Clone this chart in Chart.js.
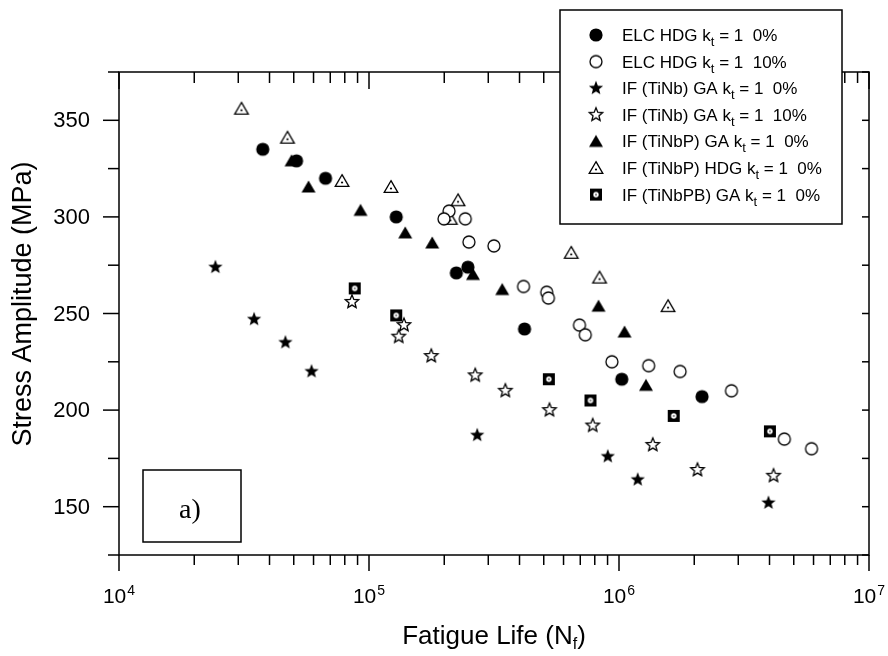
<!DOCTYPE html>
<html><head><meta charset="utf-8">
<script src="https://cdn.jsdelivr.net/npm/chart.js@4/dist/chart.umd.min.js"></script>
<style>html,body{margin:0;padding:0;background:#fff;}canvas{display:block;}</style>
</head><body>
<canvas id="c" width="888" height="656"></canvas>
<script>
// ---------------- DATA ----------------
const elcHdg0Life   = [37600, 51300, 67000, 128500, 223500, 248600, 419000, 1026000, 2148000];
const elcHdg0Stress = [335, 329, 320, 300, 271, 274, 242, 216, 207];

const elcHdg10Life   = [209000, 199500, 242700, 251000, 316000, 415000, 514000, 522000, 695000, 733000, 937000, 1314000, 1755000, 2818000, 4585000, 5890000];
const elcHdg10Stress = [303, 299, 299, 287, 285, 264, 261, 258, 244, 239, 225, 223, 220, 210, 185, 180];

const tiNbGa0Life   = [24300, 34700, 46300, 58900, 271000, 902000, 1188000, 3962000];
const tiNbGa0Stress = [274, 247, 235, 220, 187, 176, 164, 152];

const tiNbGa10Life   = [85500, 131500, 138000, 177500, 266000, 351000, 527000, 785000, 1365000, 2060000, 4150000];
const tiNbGa10Stress = [256, 238, 244, 228, 218, 210, 200, 192, 182, 169, 166];

const tiNbPGa0Life   = [49000, 57300, 92500, 139600, 179000, 260500, 341000, 828000, 1052000, 1282000];
const tiNbPGa0Stress = [329, 315.5, 303.4, 291.7, 286.5, 270.2, 262.4, 253.8, 240.4, 212.8];

const tiNbPHdg0Life   = [30900, 47200, 78000, 122400, 227000, 211500, 644000, 836000, 1571000];
const tiNbPHdg0Stress = [356, 341, 318.6, 315.5, 308.6, 299, 281.4, 268.6, 253.8];

const tiNbPBGa0Life   = [87700, 128500, 524000, 769000, 1655000, 4015000];
const tiNbPBGa0Stress = [263, 249, 216, 205, 197, 189];

const seriesNames = ['ELC HDG', 'ELC HDG', 'IF (TiNb) GA', 'IF (TiNb) GA', 'IF (TiNbP) GA', 'IF (TiNbP) HDG', 'IF (TiNbPB) GA'];
const seriesPrestrain = ['0%', '10%', '0%', '10%', '0%', '0%', '0%'];

const yMajorTicks = [150, 200, 250, 300, 350];
const yMinorTicks = [125, 175, 225, 275, 325, 375];
const xDecadeExponents = [4, 5, 6, 7];
const xTitle = 'Fatigue Life (N';
const xTitleSub = 'f';
const yTitle = 'Stress Amplitude (MPa)';
const panelLabel = 'a)';

// ---------------- MARKERS ----------------
function starPath(g, R, r) {
  g.beginPath();
  for (let i = 0; i < 10; i++) {
    const rad = (i % 2 === 0) ? R : r;
    const a = -Math.PI / 2 + i * Math.PI / 5;
    const px = rad * Math.cos(a), py = rad * Math.sin(a);
    if (i === 0) g.moveTo(px, py); else g.lineTo(px, py);
  }
  g.closePath();
}
function makeMarker(kind) {
  const s = 22;
  const c = document.createElement('canvas');
  c.width = s; c.height = s;
  const g = c.getContext('2d');
  g.translate(s / 2, s / 2);
  g.fillStyle = '#000'; g.strokeStyle = '#000';
  if (kind === 'circleFill') {
    g.beginPath(); g.arc(0, 0, 6.6, 0, Math.PI * 2); g.fill();
  } else if (kind === 'circleOpen') {
    g.lineWidth = 1.3;
    g.beginPath(); g.arc(0, 0, 6, 0, Math.PI * 2);
    g.fillStyle = '#fff'; g.fill(); g.stroke();
  } else if (kind === 'starFill') {
    starPath(g, 7.5, 3.2); g.fill();
  } else if (kind === 'starOpen') {
    g.lineWidth = 1.3;
    starPath(g, 7, 3.1); g.fillStyle = '#fff'; g.fill(); g.stroke();
  } else if (kind === 'triFill') {
    g.beginPath(); g.moveTo(0, -6.5); g.lineTo(7, 5.5); g.lineTo(-7, 5.5); g.closePath(); g.fill();
  } else if (kind === 'triOpen') {
    g.lineWidth = 1.3;
    g.beginPath(); g.moveTo(0, -6.3); g.lineTo(6.8, 5.3); g.lineTo(-6.8, 5.3); g.closePath();
    g.fillStyle = '#fff'; g.fill(); g.stroke();
    g.fillStyle = '#000'; g.beginPath(); g.arc(0, 1.5, 1.1, 0, Math.PI * 2); g.fill();
  } else if (kind === 'squareDot') {
    g.fillRect(-6, -6, 12, 12);
    g.fillStyle = '#fff'; g.beginPath(); g.arc(0, 0, 2.7, 0, Math.PI * 2); g.fill();
    g.fillStyle = '#000'; g.beginPath(); g.arc(0, 0, 0.8, 0, Math.PI * 2); g.fill();
  }
  return c;
}
const markerKinds = ['circleFill', 'circleOpen', 'starFill', 'starOpen', 'triFill', 'triOpen', 'squareDot'];
const markers = markerKinds.map(makeMarker);

const seriesLife = [elcHdg0Life, elcHdg10Life, tiNbGa0Life, tiNbGa10Life, tiNbPGa0Life, tiNbPHdg0Life, tiNbPBGa0Life];
const seriesStress = [elcHdg0Stress, elcHdg10Stress, tiNbGa0Stress, tiNbGa10Stress, tiNbPGa0Stress, tiNbPHdg0Stress, tiNbPBGa0Stress];

const datasets = seriesLife.map((life, i) => ({
  label: seriesNames[i] + ' kt = 1 ' + seriesPrestrain[i],
  data: life.map((x, j) => ({ x: x, y: seriesStress[i][j] })),
  pointStyle: markers[i],
  pointRadius: 7,
  showLine: false
}));

const FONT = "'Liberation Sans', Arial, Helvetica, sans-serif";

// ---------------- FRAME / TICKS / LABELS PLUGIN ----------------
const framePlugin = {
  id: 'frame',
  afterDraw(chart) {
    const ctx = chart.ctx;
    const a = chart.chartArea;
    const xs = chart.scales.x, ys = chart.scales.y;
    ctx.save();
    ctx.strokeStyle = '#000';
    ctx.lineWidth = 1.5;
    ctx.lineCap = 'butt';
    ctx.strokeRect(a.left, a.top, a.right - a.left, a.bottom - a.top);
    function line(x1, y1, x2, y2) { ctx.beginPath(); ctx.moveTo(x1, y1); ctx.lineTo(x2, y2); ctx.stroke(); }
    yMajorTicks.forEach(v => {
      const y = ys.getPixelForValue(v);
      line(a.left - 16, y, a.left, y);
      line(a.right - 7, y, a.right, y);
    });
    yMinorTicks.forEach(v => {
      const y = ys.getPixelForValue(v);
      line(a.left - 11, y, a.left, y);
      line(a.right - 7, y, a.right, y);
    });
    for (let d = 0; d < xDecadeExponents.length; d++) {
      const e = xDecadeExponents[d];
      const x = xs.getPixelForValue(Math.pow(10, e));
      line(x, a.bottom, x, a.bottom + 16);
      line(x, a.top, x, a.top + 17);
      if (d < xDecadeExponents.length - 1) {
        for (let m = 2; m <= 9; m++) {
          const xm = xs.getPixelForValue(m * Math.pow(10, e));
          line(xm, a.bottom, xm, a.bottom + 10);
          line(xm, a.top, xm, a.top + 11);
        }
      }
    }
    ctx.fillStyle = '#000';
    ctx.font = '22px ' + FONT;
    ctx.textAlign = 'right';
    ctx.textBaseline = 'middle';
    yMajorTicks.forEach(v => {
      ctx.fillText(String(v), a.left - 29, ys.getPixelForValue(v) + 1);
    });
    ctx.textBaseline = 'alphabetic';
    ctx.textAlign = 'left';
    xDecadeExponents.forEach(e => {
      const x = xs.getPixelForValue(Math.pow(10, e));
      ctx.font = '21px ' + FONT;
      const w1 = ctx.measureText('10').width;
      ctx.font = '14px ' + FONT;
      const w2 = ctx.measureText(String(e)).width;
      const start = x - (w1 + w2 + 1) / 2;
      ctx.font = '21px ' + FONT;
      ctx.fillText('10', start, 603);
      ctx.font = '14px ' + FONT;
      ctx.fillText(String(e), start + w1 + 1, 595);
    });
    ctx.font = '26px ' + FONT;
    const wt = ctx.measureText(xTitle).width;
    ctx.font = '16px ' + FONT;
    const ws = ctx.measureText(xTitleSub).width;
    ctx.font = '26px ' + FONT;
    const wc = ctx.measureText(')').width;
    const cx = (a.left + a.right) / 2;
    let sx = cx - (wt + ws + wc) / 2;
    ctx.fillText(xTitle, sx, 644);
    ctx.font = '16px ' + FONT;
    ctx.fillText(xTitleSub, sx + wt, 649);
    ctx.font = '26px ' + FONT;
    ctx.fillText(')', sx + wt + ws, 644);
    ctx.save();
    ctx.translate(24, 304);
    ctx.rotate(-Math.PI / 2);
    ctx.font = '27px ' + FONT;
    ctx.textAlign = 'center';
    ctx.textBaseline = 'middle';
    ctx.fillText(yTitle, 0, 0);
    ctx.restore();
    ctx.lineWidth = 1.5;
    ctx.strokeRect(143, 470, 98, 72);
    ctx.font = "28px 'Liberation Serif', 'Times New Roman', serif";
    ctx.textAlign = 'center';
    ctx.textBaseline = 'alphabetic';
    ctx.fillText(panelLabel, 190, 518);

    const lx = 560, ly = 10, lw = 282, lh = 214;
    ctx.fillStyle = '#fff';
    ctx.fillRect(lx, ly, lw, lh);
    ctx.strokeStyle = '#000';
    ctx.lineWidth = 1.5;
    ctx.strokeRect(lx, ly, lw, lh);
    ctx.textAlign = 'left';
    ctx.textBaseline = 'alphabetic';
    for (let i = 0; i < seriesNames.length; i++) {
      const ry = 35 + i * 26.6;
      const m = markers[i];
      ctx.drawImage(m, 596 - m.width / 2, ry - m.height / 2);
      ctx.fillStyle = '#000';
      let tx = 622;
      const base = ry + 6;
      ctx.font = '17px ' + FONT;
      const p1 = seriesNames[i] + ' k';
      ctx.fillText(p1, tx, base);
      tx += ctx.measureText(p1).width;
      ctx.font = '13px ' + FONT;
      ctx.fillText('t', tx, base + 5);
      tx += ctx.measureText('t').width;
      ctx.font = '17px ' + FONT;
      ctx.fillText(' = 1  ' + seriesPrestrain[i], tx, base);
    }
    ctx.restore();
  }
};

new Chart(document.getElementById('c'), {
  type: 'scatter',
  data: { datasets: datasets },
  options: {
    responsive: false,
    animation: false,
    devicePixelRatio: 1,
    layout: { padding: { left: 119, top: 72, right: 19, bottom: 101 } },
    plugins: { legend: { display: false }, tooltip: { enabled: false } },
    scales: {
      x: { type: 'logarithmic', min: 10000, max: 10000000, display: false },
      y: { type: 'linear', min: 125, max: 375, display: false }
    }
  },
  plugins: [framePlugin]
});
</script>
</body></html>
